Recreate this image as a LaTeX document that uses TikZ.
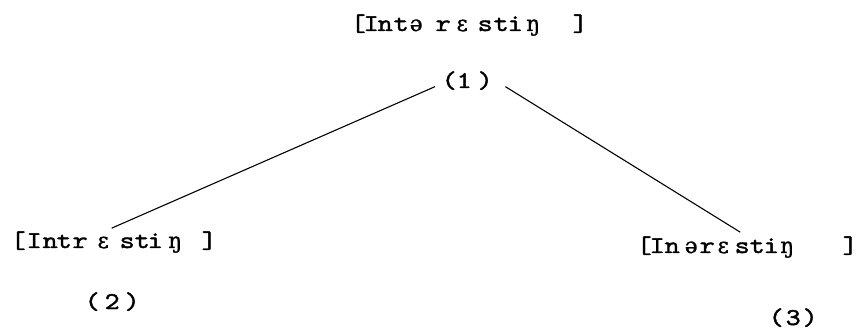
\documentclass[tikz,border=0pt]{standalone}
\usepackage{fontspec}
\newfontfamily\tw{lmmono10-regular.otf}[FakeBold=1.6,FakeStretch=1.2]
\newfontfamily\ipa{DejaVu Serif}[FakeBold=1.2,Scale=0.9]
\usetikzlibrary{calc}
\newcommand\g[2]{\makebox[0pt]{#2}\hspace{#1pt}}
\newcommand\gl[1]{\makebox[0pt]{#1}}
\begin{document}
\begin{tikzpicture}[x=1pt,y=-1pt,
  lbl/.style={inner sep=0pt,anchor=base west,font=\tw\fontsize{24}{26}\selectfont},
  num/.style={inner sep=0pt,anchor=base west,font=\tw\fontsize{24}{26}\selectfont},
  edge/.style={line width=1.1pt}]
\useasboundingbox (0,0) rectangle (861,336);
\node[lbl] (top) at (358,31) {\g{13}{[}\g{14}{I}\g{16}{n}\g{15}{t}\g{27}{\ipa ə}\g{19}{r}\g{23}{\ipa ɛ}\g{16}{s}\g{14}{t}\g{18}{i}\g{47}{\ipa ŋ}\gl{]}};
\node[num] (n1) at (449,88) {\g{15}{(}\g{21}{1}\gl{)}};
\node[lbl] (left) at (18,248) {\g{16}{[}\g{16}{I}\g{14}{n}\g{16}{t}\g{23}{r}\g{24}{\ipa ɛ}\g{15}{s}\g{13}{t}\g{20}{i}\g{34}{\ipa ŋ}\gl{]}};
\node[num] (n2) at (92,309) {\g{20}{(}\g{20}{2}\gl{)}};
\node[lbl] (right) at (644,253) {\g{13}{[}\g{15}{I}\g{19}{n}\g{16}{\ipa ə}\g{16}{r}\g{19}{\ipa ɛ}\g{15}{s}\g{14}{t}\g{16}{i}\g{63}{\ipa ŋ}\gl{]}};
\node[num] (n3) at (776,325) {\g{17}{(}\g{17}{3}\gl{)}};
\draw[edge] ($(n1.west)+(-14,6)$) -- ($(left.north)+(-2,-3)$);
\draw[edge] ($(n1.east)+(20,6)$) -- ($(right.north)+(-7,-4)$);
\end{tikzpicture}
\end{document}
